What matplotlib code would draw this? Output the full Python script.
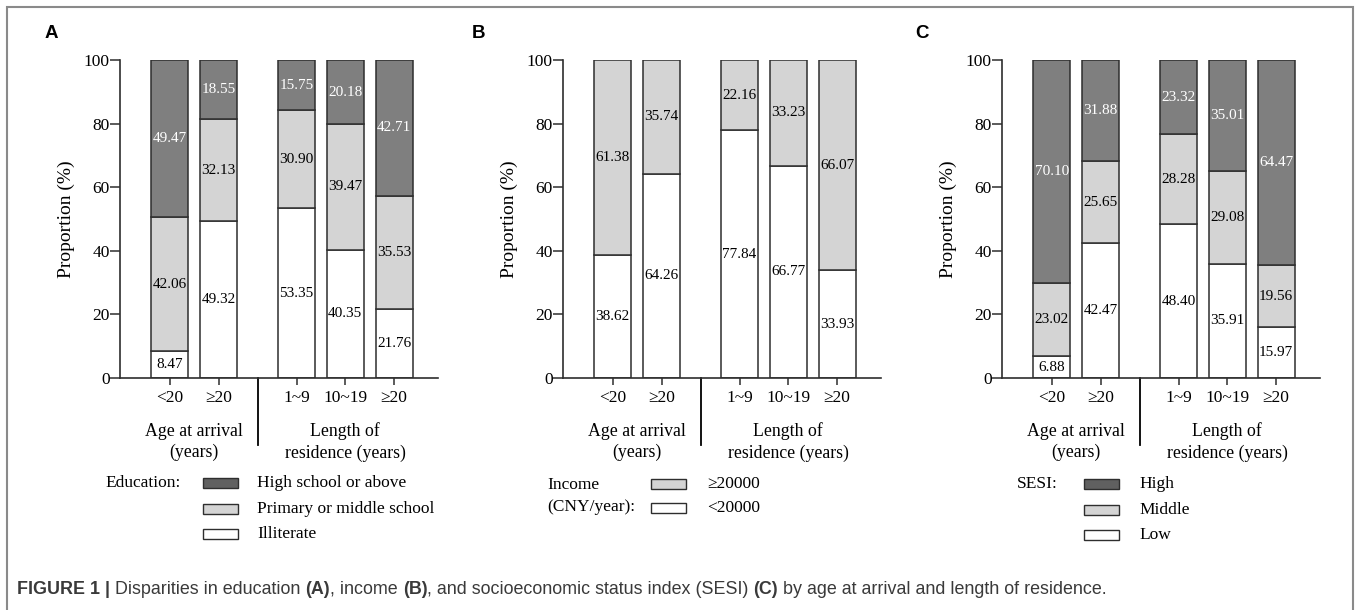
import numpy as np
import matplotlib.pyplot as plt
from matplotlib.patches import Rectangle

groups = ['<20', '≥20', '1~9', '10~19', '≥20']
xpos = [0, 1, 2.6, 3.6, 4.6]

edu_illiterate = [8.47, 49.32, 53.35, 40.35, 21.76]
edu_primary = [42.06, 32.13, 30.90, 39.47, 35.53]
edu_high = [49.47, 18.55, 15.75, 20.18, 42.71]

inc_low = [38.62, 64.26, 77.84, 66.77, 33.93]
inc_high = [61.38, 35.74, 22.16, 33.23, 66.07]

sesi_low = [6.88, 42.47, 48.40, 35.91, 15.97]
sesi_mid = [23.02, 25.65, 28.28, 29.08, 19.56]
sesi_high = [70.10, 31.88, 23.32, 35.01, 64.47]

DARK = '#7f7f7f'
LIGHT = '#d4d4d4'
EDGE = '#2e2e2e'
SERIF = 'Liberation Serif'

plt.rcParams['font.family'] = SERIF

fig = plt.figure(figsize=(13.57, 6.10), dpi=100)
W, H = 1357, 610


def fx(px):
    return px / W


def fy(py):
    return 1 - py / H


def panel(left_px, series, colors, txtcols):
    ax = fig.add_axes([fx(left_px), fy(378), fx(318), 318 / H])
    bottom = np.zeros(len(xpos))
    for vals, c, tc in zip(series, colors, txtcols):
        vals = np.array(vals)
        ax.bar(xpos, vals, bottom=bottom, width=0.76, color=c,
               edgecolor=EDGE, linewidth=1.1, zorder=2)
        for x, b, v in zip(xpos, bottom, vals):
            ax.text(x, b + v / 2, '%.2f' % v, ha='center', va='center',
                    fontsize=11, color=tc, zorder=3)
        bottom = bottom + vals
    ax.set_xlim(-1.02, 5.5)
    ax.set_ylim(0, 100)
    ax.set_yticks([0, 20, 40, 60, 80, 100])
    ax.set_xticks(xpos)
    ax.set_xticklabels(groups, fontsize=12.5)
    ax.tick_params(axis='y', labelsize=12.5, length=7, width=1.1, color=EDGE, pad=0.5)
    ax.tick_params(axis='x', length=5, width=1.1, color=EDGE, pad=4)
    for s in ['top', 'right']:
        ax.spines[s].set_visible(False)
    for s in ['left', 'bottom']:
        ax.spines[s].set_linewidth(1.2)
        ax.spines[s].set_color(EDGE)
    ax.set_ylabel('Proportion (%)', fontsize=14, labelpad=6)
    ax.plot([1.8, 1.8], [0, -0.21], color='black', lw=1.3, clip_on=False,
            transform=ax.get_xaxis_transform())
    ax.text(0.5, -0.14, 'Age at arrival\n(years)', ha='center', va='top',
            fontsize=12.8, linespacing=1.3, transform=ax.get_xaxis_transform())
    ax.text(3.6, -0.14, 'Length of\nresidence (years)', ha='center', va='top',
            fontsize=12.8, linespacing=1.3, transform=ax.get_xaxis_transform())
    return ax


panel(120, [edu_illiterate, edu_primary, edu_high], ['white', LIGHT, DARK],
      ['black', 'black', 'white'])
panel(563, [inc_low, inc_high], ['white', LIGHT], ['black', 'black'])
panel(1002, [sesi_low, sesi_mid, sesi_high], ['white', LIGHT, DARK],
      ['black', 'black', 'white'])


def legend(title_x, title_y, box_x, text_x, rows, title):
    fig.text(fx(title_x), fy(title_y), title, ha='left', va='center',
             fontsize=12.5, linespacing=1.45)
    for y, c, lab in rows:
        fig.patches.append(Rectangle((fx(box_x), fy(y + 5)), fx(35), 10 / H,
                                     facecolor=c, edgecolor=EDGE, lw=1.0,
                                     transform=fig.transFigure))
        fig.text(fx(text_x), fy(y), lab, ha='left', va='center', fontsize=12.5)


legend(105, 483, 203, 257, [(483, '#606060', 'High school or above'),
                            (509, LIGHT, 'Primary or middle school'),
                            (534, 'white', 'Illiterate')], 'Education:')
legend(547, 496, 651, 707, [(484, LIGHT, '≥20000'),
                            (508, 'white', '<20000')], 'Income\n(CNY/year):')
legend(1017, 484, 1084, 1139, [(484, '#606060', 'High'),
                               (510, LIGHT, 'Middle'),
                               (535, 'white', 'Low')], 'SESI:')

for lab, x in [('A', 45), ('B', 472), ('C', 915)]:
    fig.text(fx(x), fy(33), lab, ha='left', va='center', fontsize=13.5,
             fontweight='bold', family='Liberation Sans')

# outer frame
fig.patches.append(Rectangle((fx(7), fy(615)), fx(1346), 608 / H, fill=False,
                             edgecolor='#8a8a8a', lw=1.5,
                             transform=fig.transFigure))

# caption
cap = [('FIGURE 1 | ', 'bold'), ('Disparities in education ', 'normal'),
       ('(A)', 'bold'), (', income ', 'normal'), ('(B)', 'bold'),
       (', and socioeconomic status index (SESI) ', 'normal'), ('(C)', 'bold'),
       (' by age at arrival and length of residence.', 'normal')]
fig.canvas.draw()
r = fig.canvas.get_renderer()
x = fx(17)
for s, w in cap:
    t = fig.text(x, fy(594), s, ha='left', va='baseline', fontsize=12.9,
                 fontweight=w, family='Liberation Sans', color='#3a3a3a')
    bb = t.get_window_extent(renderer=r)
    x += bb.width / W

fig.savefig('out.png', dpi=100)
